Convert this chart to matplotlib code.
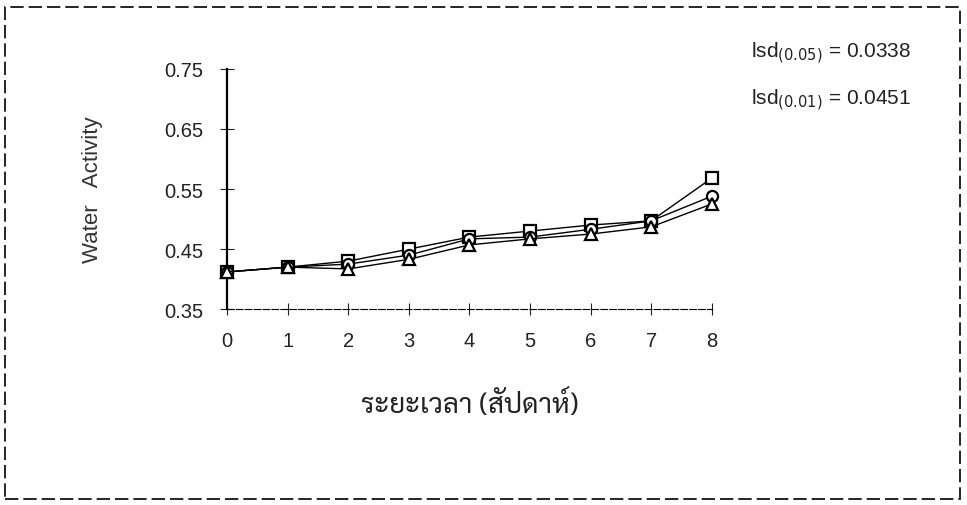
import numpy as np
import matplotlib.pyplot as plt
from matplotlib.patches import Rectangle

plt.rcParams['font.family'] = ['Liberation Sans', 'DejaVu Sans']

# storage time (weeks) and water activity of the three treatments
weeks = [0, 1, 2, 3, 4, 5, 6, 7, 8]
aw_square = [0.412, 0.420, 0.430, 0.450, 0.470, 0.480, 0.490, 0.497, 0.568]
aw_circle = [0.412, 0.420, 0.425, 0.440, 0.467, 0.470, 0.483, 0.497, 0.538]
aw_triangle = [0.412, 0.420, 0.417, 0.433, 0.457, 0.467, 0.475, 0.487, 0.525]
yticks = [0.35, 0.45, 0.55, 0.65, 0.75]

thai_fonts = ['Sarabun', 'Noto Sans Thai', 'Athiti', 'Liberation Sans', 'DejaVu Sans']

fig = plt.figure(figsize=(9.67, 5.06), dpi=100)
ax = fig.add_axes([0.235, 0.387, 0.501, 0.475])

for vals, mk in [(aw_square, 's'), (aw_circle, 'o'), (aw_triangle, '^')]:
    ax.plot(weeks, vals, color='black', lw=1.0, marker=mk, ms=8,
            mfc='white', mec='black', mew=1.6, clip_on=False, zorder=3)

ax.set_xlim(0, 8)
ax.set_ylim(0.35, 0.75)
ax.set_xticks(weeks)
ax.set_yticks(yticks)
ax.set_yticklabels([f"{v:.2f}" for v in yticks])
ax.tick_params(axis='x', direction='inout', length=8, width=0.8, pad=12,
               labelsize=14.5, colors='#222222')
ax.tick_params(axis='y', direction='inout', length=10, width=0.8, pad=12,
               labelsize=14.5, colors='#222222')
for s in ['top', 'right']:
    ax.spines[s].set_visible(False)
ax.spines['left'].set_linewidth(1.6)
ax.spines['bottom'].set_linewidth(0.8)
ax.spines['bottom'].set_linestyle((0, (6, 2)))

ax.set_ylabel("Water   Activity", fontsize=16, color='#333333', labelpad=44)
ax.set_xlabel("ระยะเวลา (สัปดาห์)", fontsize=20, color='#222222', labelpad=28,
              family=thai_fonts)

fig.text(0.777, 0.886, r"lsd$_{(0.05)}$ = 0.0338", fontsize=15, color='#222222')
fig.text(0.777, 0.792, r"lsd$_{(0.01)}$ = 0.0451", fontsize=15, color='#222222')

# frame around the whole figure
fig.patches.append(Rectangle((0.005, 0.012), 0.988, 0.972, transform=fig.transFigure,
                             fill=False, ec='black', lw=1.2, ls=(0, (8, 3))))

fig.savefig("out.png", dpi=100)
